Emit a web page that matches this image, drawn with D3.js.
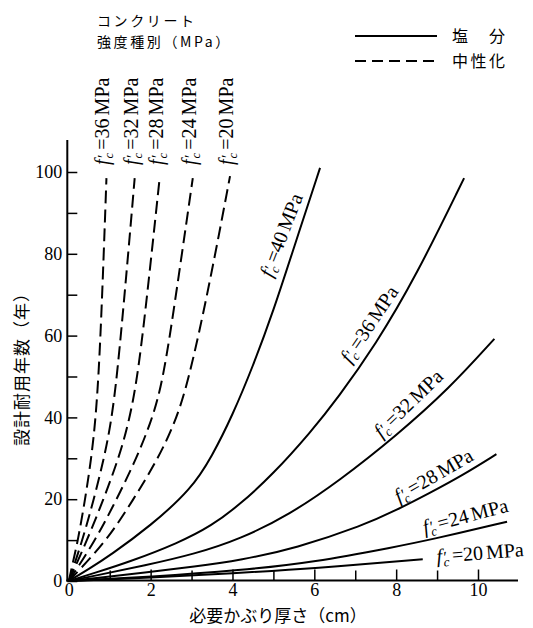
<!DOCTYPE html>
<html><head><meta charset="utf-8">
<script src="https://cdn.jsdelivr.net/npm/d3@7"></script>
<style>
html,body{margin:0;padding:0;background:#fff;}
svg{display:block;}
</style></head>
<body>
<svg id="chart" width="533" height="628"></svg>
<script>
// ---------- data ----------
const xTicksMajor = [0, 2, 4, 6, 8, 10];
const xTicksMinor = [1, 3, 5, 7, 9];
const yTicksMajor = [0, 20, 40, 60, 80, 100];
const yTicksMinor = [10, 30, 50, 70, 90];
const strengths = [40, 36, 32, 28, 24, 20];           // MPa
const carbStrengths = [36, 32, 28, 24, 20];           // MPa

// chloride (solid) curves: [cover cm, years]
const chloride40 = [[0,0],[0.5,3.0],[1,6.2],[2,13.5],[3,22.5],[3.5,30.5],[4,40.5],[4.5,52.5],[5,66],[5.5,81.5],[6.14,101]];
const chloride36 = [[0,0],[0.64,2.0],[1.46,4.6],[2.68,9.3],[3.49,13.5],[4.17,18.6],[4.98,26],[5.92,36.5],[6.57,44.7],[7.5,57.8],[8.48,74.4],[9.66,98.5]];
const chloride32 = [[0,0],[0.64,1.3],[1.86,3.8],[3.08,6.6],[4.2,10.3],[5.39,16.2],[6.61,24.5],[8.0,35.5],[9.29,47.0],[10.4,59.2]];
const chloride28 = [[0,0],[0.64,0.7],[1.86,2.1],[3.08,3.5],[4.2,5.1],[5.55,8.0],[7.2,13.6],[8.0,17.3],[8.8,21.4],[9.65,26.0],[10.45,31]];
const chloride24 = [[0,0],[2,1.0],[4.2,2.6],[6,4.6],[8,8.4],[8.8,10],[10.71,14.5]];
const chloride20 = [[0,0],[2,0.8],[4,1.9],[6,3.1],[8.65,5.3]];

// carbonation (dashed) curves
const carb36 = [[0,0],[0.1,4.5],[0.22,9.8],[0.40,20],[0.55,30],[0.66,40],[0.75,54],[0.84,76],[0.92,98.5]];
const carb32 = [[0,0],[0.32,9.5],[0.60,19.5],[0.85,29.5],[1.03,38.5],[1.18,50],[1.40,74],[1.61,98.5]];
const carb28 = [[0,0],[0.44,9.8],[0.85,20],[1.2,29.5],[1.45,38],[1.69,50],[1.96,74],[2.22,98.5]];
const carb24 = [[0,0],[0.64,9.8],[1.13,19.2],[1.6,28.8],[2.0,38.5],[2.3,48.5],[2.65,72],[3.03,98.5]];
const carb20 = [[0,0],[0.93,9.8],[1.58,20],[2.1,28.5],[2.55,37.5],[2.91,48],[3.45,73],[3.94,99]];

const chlorideSeries = [chloride40, chloride36, chloride32, chloride28, chloride24, chloride20];
const carbSeries = [carb36, carb32, carb28, carb24, carb20];

// label anchors along solid curves (data units) and angles
const solidLabelX = [4.96, 6.88, 7.64, 8.07, 8.7, 9.0];
const solidLabelY = [74, 53, 34.8, 19.0, 11.5, 4.4];
const solidLabelAngle = [-69, -56, -44, -30, -15, -4.5];

const legendLabels = ["塩　分", "中性化"];
const headerLines = ["コンクリート", "強度種別（MPa）"];
const xTitle = "必要かぶり厚さ（cm）";
const yTitle = "設計耐用年数（年）";

// ---------- drawing ----------
const svg = d3.select("#chart");
const serif = "'Liberation Serif','DejaVu Serif',serif";
const cjk = "'Noto Sans CJK JP','Noto Sans CJK SC',sans-serif";

const x = d3.scaleLinear().domain([0, 10]).range([68.8, 478]);
const y = d3.scaleLinear().domain([0, 100]).range([581, 172]);
const axisX0 = x(0) - 1.5;

// axes lines
svg.append("line").attr("x1", axisX0).attr("x2", axisX0).attr("y1", y(0) + 0.5).attr("y2", 140)
  .attr("stroke", "#000").attr("stroke-width", 2);
svg.append("line").attr("x1", axisX0 - 1).attr("x2", 518).attr("y1", y(0) - 0.5).attr("y2", y(0) - 0.5)
  .attr("stroke", "#000").attr("stroke-width", 2);

// y axis ticks
const yAxisMajor = d3.axisLeft(y).tickValues(yTicksMajor).tickSizeInner(-10).tickSizeOuter(0).tickPadding(5).tickFormat(d3.format("d"));
const yAxisMinor = d3.axisLeft(y).tickValues(yTicksMinor).tickSizeInner(-10).tickSizeOuter(0).tickFormat("");
const gy = svg.append("g").attr("transform", `translate(${axisX0},0)`).call(yAxisMajor);
svg.append("g").attr("transform", `translate(${axisX0},0)`).call(yAxisMinor).select(".domain").remove();
gy.select(".domain").remove();
svg.selectAll("g.tick line").attr("stroke-width", 1.5);

// x axis ticks
const xAxisMajor = d3.axisBottom(x).tickValues(xTicksMajor).tickSizeInner(-11).tickSizeOuter(0).tickPadding(3).tickFormat(d3.format("d"));
const xAxisMinor = d3.axisBottom(x).tickValues(xTicksMinor).tickSizeInner(-10).tickSizeOuter(0).tickFormat("");
const gx = svg.append("g").attr("transform", `translate(0,${y(0) - 0.5})`).call(xAxisMajor);
const gx2 = svg.append("g").attr("transform", `translate(0,${y(0) - 0.5})`).call(xAxisMinor);
gx.select(".domain").remove(); gx2.select(".domain").remove();
gx.selectAll(".tick").filter(d => d === 0).select("line").remove();
gx.selectAll("line").attr("stroke-width", 1.5); gx2.selectAll("line").attr("stroke-width", 1.5);

svg.selectAll(".tick text").attr("font-family", serif).attr("font-size", 18).attr("fill", "#000");

// curves
const line = d3.line().x(d => x(d[0])).y(d => y(d[1])).curve(d3.curveBasis);
svg.append("g").selectAll("path").data(chlorideSeries).join("path")
  .attr("d", line).attr("fill", "none").attr("stroke", "#000").attr("stroke-width", 2);
svg.append("g").selectAll("path").data(carbSeries).join("path")
  .attr("d", line).attr("fill", "none").attr("stroke", "#000").attr("stroke-width", 2)
  .attr("stroke-dasharray", "13,6");

// label builder f'c = XX MPa
function fcLabel(sel, v) {
  const t = sel.append("text").attr("font-family", serif).attr("font-size", 20).attr("fill", "#000");
  t.append("tspan").attr("font-style", "italic").text("f");
  t.append("tspan").attr("dx", 1.5).attr("font-size", 16).text("′");
  t.append("tspan").attr("font-style", "italic").attr("font-size", 13).attr("dx", -4).attr("dy", 4).text("c");
  t.append("tspan").attr("dx", 3).attr("dy", -4).text("=" + v);
  t.append("tspan").attr("dx", 3).text("MPa");
  return t;
}

// dashed labels (vertical, above tops)
carbSeries.forEach((s, i) => {
  const top = s[s.length - 1];
  const g = svg.append("g").attr("transform", `translate(${x(top[0]) + 3},${y(100) - 7}) rotate(-90)`);
  fcLabel(g, carbStrengths[i]);
});

// solid labels
chlorideSeries.forEach((s, i) => {
  const g = svg.append("g").attr("transform", `translate(${x(solidLabelX[i])},${y(solidLabelY[i])}) rotate(${solidLabelAngle[i]})`);
  fcLabel(g, strengths[i]);
});

// header (one text block, two lines)
const hdr = svg.append("text").attr("font-family", cjk).attr("font-size", 14)
  .attr("letter-spacing", 2.6).attr("fill", "#000");
hdr.selectAll("tspan").data(headerLines).join("tspan")
  .attr("x", 97).attr("y", (d, i) => 26 + i * 20.5).text(d => d);

// legend
const leg = svg.append("g");
leg.selectAll("line").data(legendLabels).join("line")
  .attr("x1", 355).attr("x2", 437).attr("y1", (d, i) => 36 + i * 25).attr("y2", (d, i) => 36 + i * 25)
  .attr("stroke", "#000").attr("stroke-width", 2)
  .attr("stroke-dasharray", (d, i) => i === 0 ? null : "11,6");
leg.selectAll("text").data(legendLabels).join("text")
  .attr("x", 452).attr("y", (d, i) => 42 + i * 25)
  .attr("font-family", cjk).attr("font-size", 16).attr("letter-spacing", 2.5).attr("fill", "#000")
  .text(d => d);

// axis titles
svg.append("text").attr("x", 278).attr("y", 622).attr("text-anchor", "middle")
  .attr("font-family", cjk).attr("font-size", 17).attr("fill", "#000").text(xTitle);
svg.append("text").attr("transform", "translate(28,365) rotate(-90)").attr("text-anchor", "middle")
  .attr("font-family", cjk).attr("font-size", 17).attr("letter-spacing", 1).attr("fill", "#000").text(yTitle);
</script>
</body></html>
